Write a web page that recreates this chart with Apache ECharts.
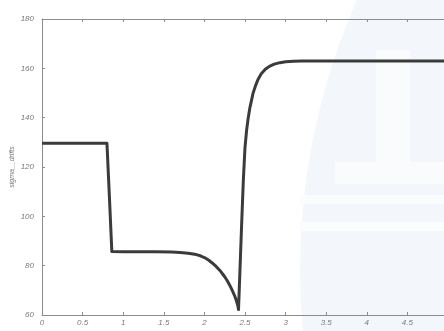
<!DOCTYPE html>
<html>
<head>
<meta charset="utf-8">
<script src="https://cdn.jsdelivr.net/npm/echarts@6/dist/echarts.min.js"></script>
<style>
  html, body { margin: 0; padding: 0; background: #ffffff; }
  #chart { width: 444px; height: 331px; }
</style>
</head>
<body>
<div id="chart"></div>
<script>
// time axis (s) and the drift sigma response
const timeValues = [0, 0.40, 0.80, 0.83, 0.86, 1.00, 1.20, 1.40, 1.60, 1.70, 1.80, 1.90, 1.95, 2.00, 2.05, 2.10, 2.15, 2.20, 2.25, 2.28, 2.31, 2.34, 2.37, 2.39, 2.41, 2.42, 2.44, 2.46, 2.48, 2.50, 2.52, 2.54, 2.56, 2.58, 2.60, 2.63, 2.66, 2.70, 2.75, 2.80, 2.86, 2.93, 3.00, 3.10, 3.20, 4.00, 5.00];
const sigmaValues = [129.6, 129.6, 129.6, 108, 85.7, 85.6, 85.6, 85.6, 85.5, 85.3, 85.0, 84.5, 84.0, 83.3, 82.3, 81.0, 79.5, 77.7, 75.5, 74.0, 72.2, 70.2, 68.0, 66.2, 64.0, 62.2, 80, 98, 115, 128, 135, 140, 144, 147, 150, 153, 155.5, 157.8, 159.6, 160.8, 161.7, 162.3, 162.7, 162.9, 163.0, 163.0, 163.0];

const xTicks = { min: 0, max: 5, step: 0.5 };
const yTicks = { min: 60, max: 180, step: 20 };
const yAxisTitle = 'sigma__drifts';

const points = timeValues.map((t, i) => [t, sigmaValues[i]]);

const axisGray = '#8c8c8c';
const labelStyle = { color: '#7a7a7a', fontSize: 8, fontStyle: 'italic', fontFamily: 'Liberation Sans, Arial, sans-serif' };

const chart = echarts.init(document.getElementById('chart'), null, { renderer: 'canvas' });

chart.setOption({
  animation: false,
  backgroundColor: '#ffffff',
  // faint emblem drawn behind the plot
  graphic: [
    { type: 'circle', z: -10, silent: true, shape: { cx: 968, cy: 270, r: 668 }, style: { fill: '#f3f6fa' } },
    { type: 'rect', z: -9, silent: true, shape: { x: 376, y: 50, width: 34, height: 112 }, style: { fill: '#f9fbfd' } },
    { type: 'rect', z: -9, silent: true, shape: { x: 335, y: 162, width: 110, height: 22 }, style: { fill: '#f9fbfd' } },
    { type: 'rect', z: -9, silent: true, shape: { x: 300, y: 195, width: 144, height: 9 }, style: { fill: '#fbfcfe' } },
    { type: 'rect', z: -9, silent: true, shape: { x: 300, y: 222, width: 144, height: 9 }, style: { fill: '#fbfcfe' } }
  ],
  grid: { left: 42, top: 19, bottom: 16, right: -4, containLabel: false, outerBoundsMode: 'none' },
  xAxis: [
    {
      type: 'value', min: xTicks.min, max: xTicks.max, interval: xTicks.step, position: 'bottom',
      axisLine: { show: true, lineStyle: { color: axisGray, width: 1 } },
      axisTick: { show: true, inside: true, length: 3, lineStyle: { color: axisGray } },
      axisLabel: Object.assign({ margin: 4, showMaxLabel: false }, labelStyle),
      splitLine: { show: false }
    },
    {
      type: 'value', min: xTicks.min, max: xTicks.max, interval: xTicks.step, position: 'top',
      axisLine: { show: true, lineStyle: { color: axisGray, width: 1 } },
      axisTick: { show: true, inside: true, length: 3, lineStyle: { color: axisGray } },
      axisLabel: { show: false },
      splitLine: { show: false }
    }
  ],
  yAxis: [
    {
      type: 'value', min: yTicks.min, max: yTicks.max, interval: yTicks.step,
      name: yAxisTitle, nameLocation: 'middle', nameGap: 26, nameRotate: 90, nameMoveOverlap: false,
      nameTextStyle: { color: '#7a7a7a', fontSize: 7, fontStyle: 'italic', fontFamily: 'Liberation Sans, Arial, sans-serif' },
      axisLine: { show: true, lineStyle: { color: axisGray, width: 1 } },
      axisTick: { show: true, inside: true, length: 3, lineStyle: { color: axisGray } },
      axisLabel: Object.assign({ margin: 8 }, labelStyle),
      splitLine: { show: false }
    }
  ],
  series: [
    {
      type: 'line',
      data: points,
      xAxisIndex: 0,
      yAxisIndex: 0,
      showSymbol: false,
      smooth: false,
      lineStyle: { color: '#3b3b3b', width: 3, join: 'round' }
    }
  ]
});
</script>
</body>
</html>
